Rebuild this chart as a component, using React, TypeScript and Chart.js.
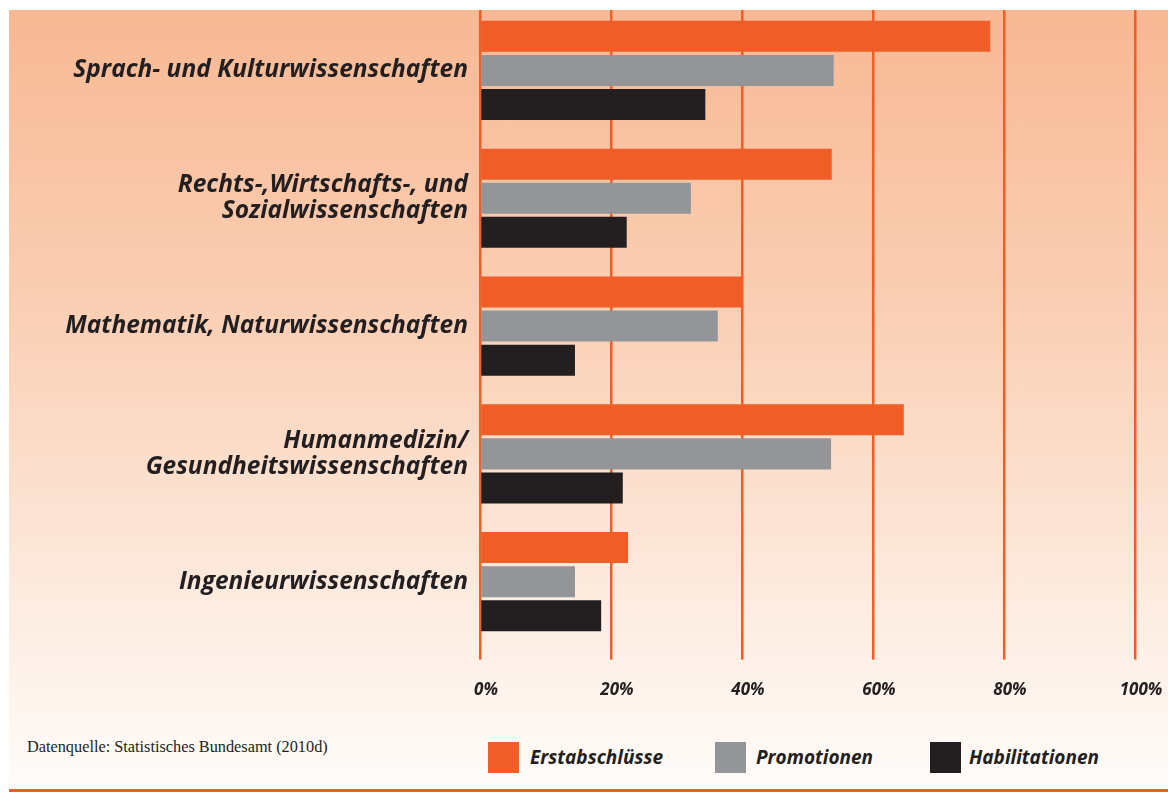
import React, { useEffect, useRef } from "react";
import { Chart, registerables } from "chart.js";

Chart.register(...registerables);

const categories: string[][] = [
  ["Sprach- und Kulturwissenschaften"],
  ["Rechts-,Wirtschafts-, und", "Sozialwissenschaften"],
  ["Mathematik, Naturwissenschaften"],
  ["Humanmedizin/", "Gesundheitswissenschaften"],
  ["Ingenieurwissenschaften"],
];
const erstabschluesse = [77.9, 53.7, 40.0, 64.7, 22.6];
const promotionen = [54.0, 32.2, 36.3, 53.6, 14.5];
const habilitationen = [34.4, 22.4, 14.5, 21.8, 18.5];
const seriesNames = ["Erstabschlüsse", "Promotionen", "Habilitationen"];
const seriesColors = ["#F15D26", "#939598", "#231F20"];
const xTickValues = [0, 20, 40, 60, 80, 100];
const sourceText = "Datenquelle: Statistisches Bundesamt (2010d)";

const FONT = "'Open Sans', Lato, sans-serif";

export default function App() {
  const canvasRef = useRef<HTMLCanvasElement | null>(null);

  useEffect(() => {
    let chart: Chart | null = null;
    let cancelled = false;
    const make = () => {
      if (cancelled || !canvasRef.current) return;
      chart = new Chart(canvasRef.current, {
        type: "bar",
        data: {
          labels: categories as any,
          datasets: [erstabschluesse, promotionen, habilitationen].map((d, i) => ({
            label: seriesNames[i],
            data: d,
            backgroundColor: seriesColors[i],
            borderWidth: 0,
            categoryPercentage: 0.8,
            barPercentage: 0.91,
          })),
        },
        options: {
          indexAxis: "y",
          animation: false,
          responsive: false,
          devicePixelRatio: 1,
          layout: { padding: { top: 6.5, right: 33, left: 0, bottom: 0 } },
          plugins: { legend: { display: false }, tooltip: { enabled: false } },
          scales: {
            x: {
              type: "linear",
              min: 0,
              max: 100,
              afterBuildTicks: (scale: any) => {
                scale.ticks = xTickValues.map((v) => ({ value: v }));
              },
              afterFit: (scale: any) => {
                scale.paddingLeft = 0;
                scale.paddingRight = 0;
                scale.paddingTop = 0;
                scale.paddingBottom = 0;
              },
              border: { display: false },
              grid: {
                color: "#F15D26",
                lineWidth: 2.5,
                drawTicks: true,
                tickLength: 14,
              },
              ticks: {
                autoSkip: false,
                maxRotation: 0,
                padding: 20,
                labelOffset: 6,
                color: "#231F20",
                font: { family: FONT, size: 17, weight: "bold", style: "italic", lineHeight: 1.2 },
                callback: (v: any) => v + "%",
              },
            },
            y: {
              type: "category",
              afterFit: (scale: any) => {
                scale.width = 480;
                scale.paddingLeft = 0;
                scale.paddingRight = 0;
                scale.paddingTop = 0;
                scale.paddingBottom = 0;
              },
              border: { display: false },
              grid: { display: false, drawTicks: false },
              ticks: {
                padding: 12,
                color: "#231F20",
                font: { family: FONT, size: 24.5, weight: "bold", style: "italic", lineHeight: 1.07 },
              },
            },
          },
        },
      } as any);
    };
    const fontsReady = (document as any).fonts
      ? Promise.all([
          (document as any).fonts.load("italic bold 24px 'Open Sans'"),
          (document as any).fonts.load("italic bold 17px 'Open Sans'"),
        ]).catch(() => null)
      : Promise.resolve(null);
    fontsReady.then(make);
    return () => {
      cancelled = true;
      if (chart) chart.destroy();
    };
  }, []);

  const legendItems = [
    { box: 488, text: 530 },
    { box: 715, text: 756 },
    { box: 930, text: 969 },
  ];

  return (
    <div style={{ position: "absolute", left: 0, top: 0, width: 1168, height: 792, background: "#fff", overflow: "hidden" }}>
      <div
        style={{
          position: "absolute",
          left: 9,
          top: 10,
          width: 1159,
          height: 780,
          background: "linear-gradient(to bottom, #F8B893 0%, #FAD0B6 40%, #FDEBDF 75%, #FFFCFA 100%)",
        }}
      />
      <div style={{ position: "absolute", left: 9, top: 789, width: 1159, height: 3, background: "#F15D26" }} />
      <canvas
        ref={canvasRef}
        width={1168}
        height={720}
        style={{ position: "absolute", left: 0, top: 0, width: 1168, height: 720 }}
      />
      <div style={{ position: "absolute", left: 0, top: 0, width: 1168, height: 10, background: "#fff" }} />
      <div
        style={{
          position: "absolute",
          left: 27,
          top: 737,
          fontFamily: "'Liberation Serif', 'DejaVu Serif', serif",
          fontSize: 16.3,
          color: "#231F20",
          whiteSpace: "nowrap",
          lineHeight: "20px",
        }}
      >
        {sourceText}
      </div>
      {legendItems.map((it, i) => (
        <React.Fragment key={i}>
          <div style={{ position: "absolute", left: it.box, top: 742, width: 31, height: 31, background: seriesColors[i] }} />
          <div
            style={{
              position: "absolute",
              left: it.text,
              top: 744,
              fontFamily: FONT,
              fontWeight: "bold",
              fontStyle: "italic",
              fontSize: 19,
              lineHeight: "26px",
              color: "#231F20",
              whiteSpace: "nowrap",
            }}
          >
            {seriesNames[i]}
          </div>
        </React.Fragment>
      ))}
    </div>
  );
}
